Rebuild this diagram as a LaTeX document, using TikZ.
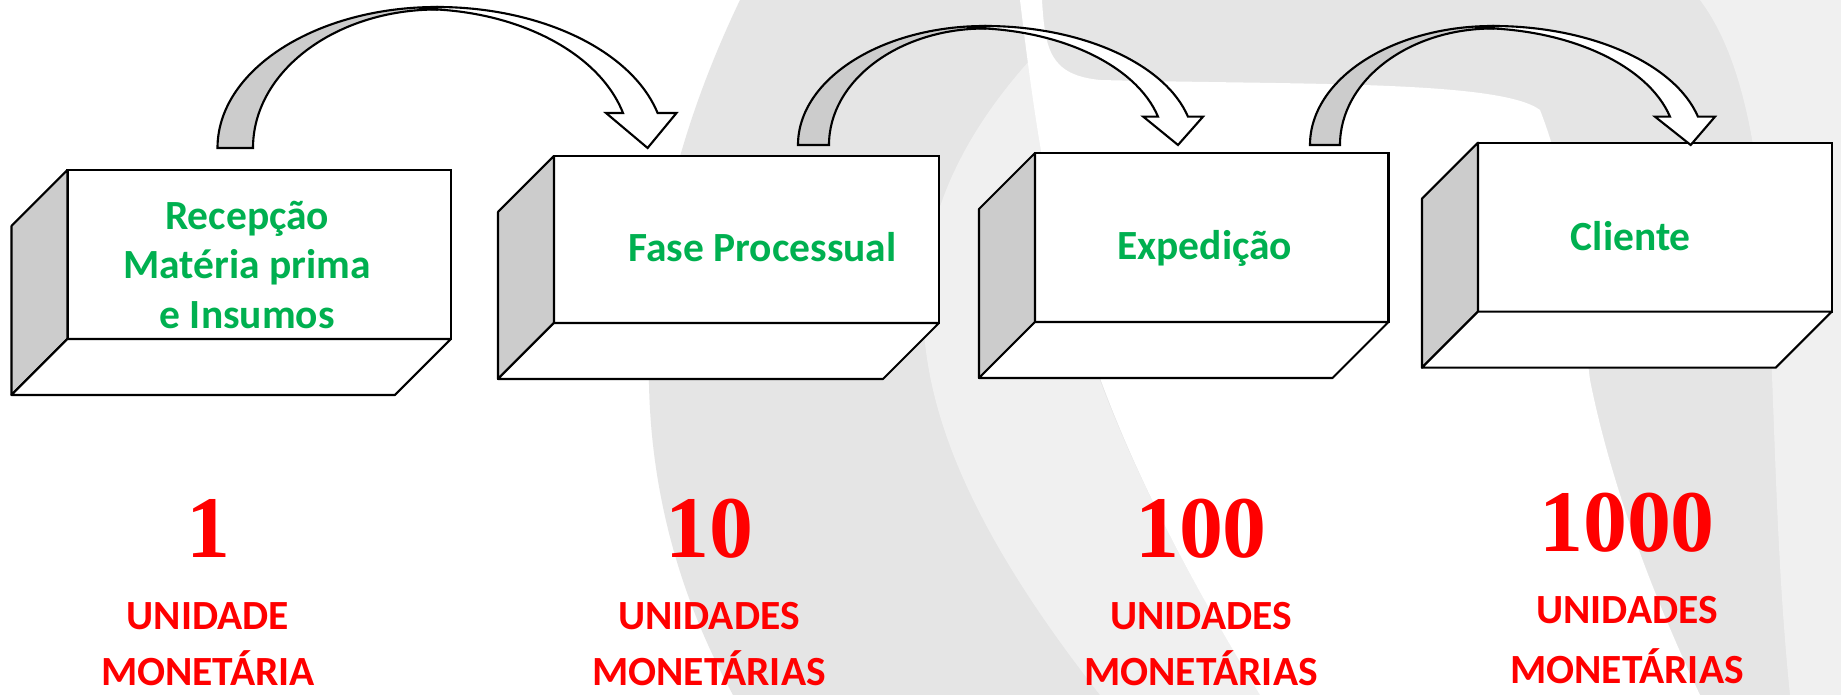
\documentclass[tikz,border=0pt]{standalone}
\usepackage{fontspec}
\setmainfont{Carlito}
\newfontfamily\numfont{Liberation Serif}
\definecolor{procgreen}{RGB}{0,176,80}
\definecolor{costred}{RGB}{255,0,0}
\definecolor{facegray}{RGB}{204,204,204}
\definecolor{bggray}{RGB}{229,229,229}
\definecolor{bglight}{RGB}{240,240,240}
\tikzset{backface/.style={draw=black, fill=white, line width=0.6pt, inner sep=0pt, outer sep=0pt},
  sideface/.style={draw=black, fill=facegray, line width=0.6pt, line join=round},
  bottomface/.style={draw=black, fill=white, line width=0.6pt, line join=round},
  steptext/.style={text=procgreen, font=\fontsize{11.8}{14.2}\selectfont\bfseries, align=center, inner sep=0pt},
  valor/.style={text=costred, font=\numfont\fontsize{25}{30}\selectfont\bfseries, inner sep=0pt, anchor=base},
  unidade/.style={text=costred, font=\fontsize{11.8}{14.2}\selectfont\bfseries, inner sep=0pt, anchor=base},
  arrowback/.style={draw=black, fill=facegray, line width=0.6pt},
  arrowfront/.style={draw=black, fill=white, line width=0.6pt}}

\begin{document}
\begin{tikzpicture}[x=0.01cm, y=-0.01cm]
  \useasboundingbox (0,0) rectangle (1841,695);
  % background swooshes
  \fill[white] (0,0) rectangle (1841,695);
  \fill[bggray] (740,0) .. controls (630,230) and (610,470) .. (733,695) -- (1841,695) -- (1841,0) -- cycle;
  \fill[bglight] (1030,60) .. controls (860,250) and (900,440) .. (1100,695) -- (1260,695) .. controls (1080,400) and (1050,250) .. (1030,60) -- cycle;
  \fill[white] (1020,0) -- (1042,0) .. controls (1045,50) and (1050,75) .. (1100,80) .. controls (1300,85) and (1500,80) .. (1540,110)
    .. controls (1575,200) and (1580,300) .. (1590,380) .. controls (1610,480) and (1650,590) .. (1700,695)
    -- (1260,695) .. controls (1080,400) and (1050,250) .. (1020,0) -- cycle;
  \fill[bglight] (1700,0) .. controls (1790,120) and (1760,400) .. (1790,695) -- (1841,695) -- (1841,0) -- cycle;

  % boxes
  \foreach \name/\cx/\cy/\w/\h in {recepcao/259.25/254.5/383.5/169, fase/746.5/239.5/385/167, expedicao/1211.75/237.5/353.5/169, cliente/1654.85/227.2/353.7/169}
  {
    \node[backface, minimum width=\w*0.01cm, minimum height=\h*0.01cm] (\name) at (\cx,\cy) {};
    \draw[sideface] (\name.north west) -- ++(-56,56) -- ++(0,\h) -- (\name.south west) -- cycle;
    \draw[bottomface] (\name.south west) -- ++(-56,56) -- ++(\w,0) -- (\name.south east) -- cycle;
  }
  \node[steptext] (recepcao-txt) at ([shift={(-12,10.5)}]recepcao.center) {Recepção\\Matéria prima\\e Insumos};
  \node[steptext, anchor=base] (fase-txt) at ([shift={(16,22.5)}]fase.center) {Fase Processual};
  \node[steptext, anchor=base] (expedicao-txt) at ([shift={(-7,22.5)}]expedicao.center) {Expedição};
  \node[steptext, anchor=base] (cliente-txt) at ([shift={(-24,23)}]cliente.center) {Cliente};

  % curved arrows
  \foreach \tailo/\taili/\taily/\topx/\topy/\endy/\endo/\endi/\headl/\headr/\tipx/\tipy in {217.5/253/148/437/7/113/657.6/623/606/676.5/647.6/148, 798/829/145/985/26/116.7/1188/1158/1143.3/1203/1178/145, 1310/1340/145/1493/26/116.7/1698/1670/1655/1715/1690.7/145}
  {
    \pgfmathsetmacro\ry{\taily-\topy}
    \pgfmathsetmacro\rxl{\topx-\tailo}
    \pgfmathsetmacro\rxli{\topx-\taili}
    \pgfmathsetmacro\ryi{\ry-2.5}
    \pgfmathsetmacro\ea{360-asin((\taily-\endy)/\ry)}
    \pgfmathsetmacro\rxo{(\endo-\topx)/cos(\ea)}
    \pgfmathsetmacro\ix{\topx-18}
    \pgfmathsetmacro\ryw{\ry-2}
    \pgfmathsetmacro\eai{360-asin((\taily-\endy)/\ryw)}
    \pgfmathsetmacro\rxw{(\endi-\ix)/cos(\eai)}
    \draw[arrowback] (\tailo,\taily) arc[start angle=180, end angle=270, x radius=\rxl, y radius=\ry] -- ++(0,2.5) arc[start angle=270, end angle=180, x radius=\rxli, y radius=\ryi] -- cycle;
    \draw[arrowfront] (\topx,\topy) arc[start angle=270, end angle=\ea, x radius=\rxo, y radius=\ry] -- (\headr,\endy) -- (\tipx,\tipy) -- (\headl,\endy) -- (\endi,\endy) arc[start angle=\eai, end angle=270, x radius=\rxw, y radius=\ryw] -- cycle;
  }

  % costs
  \foreach \i/\x/\y/\gap/\val/\lineone/\linetwo in {1/208/558/56/1/UNIDADE/MONETÁRIA, 2/709/558/56/10/UNIDADES/MONETÁRIAS, 3/1201/558/56/100/UNIDADES/MONETÁRIAS, 4/1627/552/60/1000/UNIDADES/MONETÁRIAS}
  {
    \node[valor] (valor\i) at (\x,\y) {\val};
    \node[unidade] (unid\i) at ([shift={(0,72)}]valor\i.base) {\lineone};
    \node[unidade] (monet\i) at ([shift={(0,\gap)}]unid\i.base) {\linetwo};
  }
\end{tikzpicture}
\end{document}
